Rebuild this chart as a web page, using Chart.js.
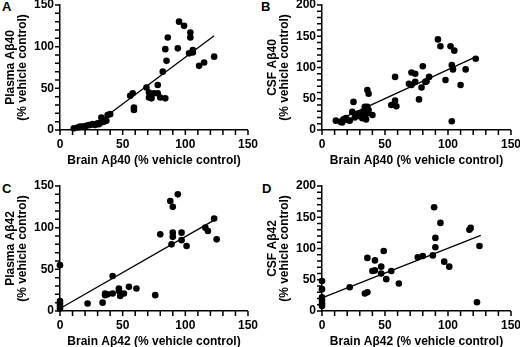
<!DOCTYPE html>
<html><head><meta charset="utf-8">
<script src="https://cdn.jsdelivr.net/npm/chart.js@4.4.1/dist/chart.umd.min.js"></script>
<style>
html,body{margin:0;padding:0;background:#fff}
body{width:520px;height:347px;position:relative;overflow:hidden;font-family:"Liberation Sans",Arial,sans-serif}
canvas{position:absolute}
.lbl{position:absolute;font-weight:bold;font-size:13px;line-height:13px;color:#000}
</style></head><body>
<div class="lbl" style="left:2px;top:0px">A</div>
<div class="lbl" style="left:261px;top:0px">B</div>
<div class="lbl" style="left:2px;top:182px">C</div>
<div class="lbl" style="left:262px;top:182px">D</div>
<canvas id="cA"></canvas>
<canvas id="cB"></canvas>
<canvas id="cC"></canvas>
<canvas id="cD"></canvas>
<script>
// ---- data ----
const brainA40_A = [11,14,16,18,20,21,23,24,26,28,30,31,33,34,33,35,36,37,38,40,56,58,59,59,69,71,71,73,75,78,78,80,84,82,84,85,86,94,95,99,103,104,104,106,106,111,115,123];
const plasmaA40 = [2,3,4,4,4,5,6,6,7,6,8,7,9,11,15,10,12,11,18,19,41,44,27,24,51,45,39,38,44,54,44,39,38,70,97,83,111,98,130,125,92,117,111,96,93,77,81,88];
const fitA = [[39,19],[123,113]];

const brainA40_B = [11,15,16,17,19,20,22,24,25,26,28,30,31,32,33,34,34,35,36,36,37,36,37,40,55,58,59,58,69,71,71,74,74,77,79,80,82,83,85,92,94,98,102,103,104,103,105,110,114,122];
const csfA40 = [15,13,12,17,19,16,15,29,45,20,26,22,25,19,30,37,22,17,27,64,58,37,32,24,40,47,38,85,74,72,92,90,77,49,68,102,77,78,85,145,134,80,134,104,97,14,127,72,97,114];
const fitB = [[12,15],[122,117]];

const brainA42_C = [0,0,0,0,0,22,34,36,36,38,42,42,47,47,48,51,55,61,76,80,88,89,90,90,90,94,97,97,101,116,118,123,125];
const plasmaA42 = [55,12,9,6,3,9,10,21,19,20,21,42,27,24,18,21,29,27,19,92,132,80,125,94,89,140,94,85,78,100,96,111,86];
const fitC = [[0,3],[123,109]];

const brainA42_D = [0,0,0,0,0,0,22,34,36,36,40,42,42,47,47,49,51,55,61,76,80,88,89,90,90,94,97,101,117,118,123,125];
const csfA42 = [48,35,22,17,12,8,38,28,30,85,64,65,81,71,60,96,51,64,44,86,88,89,166,117,102,141,79,71,130,133,14,104];
const fitD = [[0,21],[126,121]];

const xMax = 150;
const labelStep = 50;
const minorStep = 10;

// draws a tick mark at every tick of each scale, using the scale's own pixel mapping
const tickMarks = {
  id:'tickMarks',
  afterDraw(chart){
    const ctx = chart.ctx, L = 5;
    ctx.save();
    ctx.strokeStyle = '#000'; ctx.lineWidth = 1.5; ctx.lineCap = 'butt';
    const xs = chart.scales.x, ys = chart.scales.y;
    const yb = ys.getPixelForValue(0), xl = xs.getPixelForValue(0);
    ctx.beginPath();
    xs.ticks.forEach(t=>{ const p = xs.getPixelForValue(t.value); ctx.moveTo(p, yb); ctx.lineTo(p, yb+L); });
    ys.ticks.forEach(t=>{ const p = ys.getPixelForValue(t.value); ctx.moveTo(xl, p); ctx.lineTo(xl-L, p); });
    ctx.stroke();
    ctx.restore();
  }
};

// ---- chart builder ----
const FONT = {family:'"Liberation Sans", Arial, sans-serif', size:12, weight:'bold'};
function panel(id, left, top, w, h, xs, ys, fit, yMax, xTitle, yTitle){
  const cv = document.getElementById(id);
  cv.width = w; cv.height = h;
  cv.style.left = left+'px'; cv.style.top = top+'px';
  cv.style.width = w+'px'; cv.style.height = h+'px';
  const pts = xs.map((x,i)=>({x:x, y:ys[i]}));
  const line = fit.map(p=>({x:p[0], y:p[1]}));
  const tickCb = v => (v % labelStep === 0 ? String(v) : '');
  new Chart(cv, {
    type:'scatter',
    plugins:[tickMarks],
    data:{datasets:[
      {data:line, type:'line', showLine:true, borderColor:'#000', borderWidth:1.3, pointRadius:0, fill:false, clip:false, order:1},
      {data:pts, pointRadius:3.3, pointBackgroundColor:'#000', pointBorderColor:'#000', pointBorderWidth:0, clip:false, order:0}
    ]},
    options:{
      responsive:false, animation:false, devicePixelRatio:1,
      layout:{padding:{top:12,right:12,bottom:0,left:0}},
      plugins:{legend:{display:false}, tooltip:{enabled:false}},
      scales:{
        x:{type:'linear', min:0, max:xMax,
          afterFit:s=>{s.height=42;},
          border:{display:true,color:'#000',width:1.5},
          grid:{display:true,drawOnChartArea:false,drawTicks:true,tickLength:5,color:'rgba(0,0,0,0)'},
          ticks:{stepSize:minorStep, maxTicksLimit:40, autoSkip:false, maxRotation:0, padding:2, color:'#000', font:FONT, callback:tickCb},
          title:{display:true, text:xTitle, color:'#000', font:FONT, padding:{top:2,bottom:4}}
        },
        y:{type:'linear', min:0, max:yMax,
          afterFit:s=>{s.width=60;},
          border:{display:true,color:'#000',width:1.5},
          grid:{display:true,drawOnChartArea:false,drawTicks:true,tickLength:5,color:'rgba(0,0,0,0)'},
          ticks:{stepSize:minorStep, maxTicksLimit:40, autoSkip:false, padding:1, color:'#000', font:FONT, callback:tickCb},
          title:{display:true, text:yTitle, color:'#000', font:Object.assign({},FONT,{lineHeight:1.0}), padding:{top:5,bottom:2}}
        }
      }
    }
  });
}
panel('cA', 0, -7, 260, 179, brainA40_A, plasmaA40, fitA, 150, 'Brain Aβ40 (% vehicle control)', ['Plasma Aβ40','(% vehicle control)']);
panel('cB', 262, -7, 261, 179, brainA40_B, csfA40, fitB, 200, 'Brain Aβ40 (% vehicle control)', ['CSF Aβ40','(% vehicle control)']);
panel('cC', 0, 174, 260, 179, brainA42_C, plasmaA42, fitC, 150, 'Brain Aβ42 (% vehicle control)', ['Plasma Aβ42','(% vehicle control)']);
panel('cD', 262, 174, 261, 179, brainA42_D, csfA42, fitD, 200, 'Brain Aβ42 (% vehicle control)', ['CSF Aβ42','(% vehicle control)']);
</script>
</body></html>
